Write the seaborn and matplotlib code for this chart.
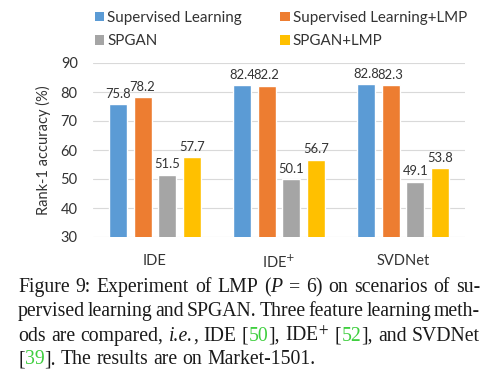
import pandas as pd
import seaborn as sns
import matplotlib.pyplot as plt
from matplotlib.patches import Patch

# data
methods = ["IDE", "IDE$^{+}$", "SVDNet"]
settings = ["Supervised Learning", "Supervised Learning+LMP", "SPGAN", "SPGAN+LMP"]
supervised = [75.8, 82.4, 82.8]
supervised_lmp = [78.2, 82.2, 82.3]
spgan = [51.5, 50.1, 49.1]
spgan_lmp = [57.7, 56.7, 53.8]
colors = ["#5B9BD5", "#ED7D31", "#A5A5A5", "#FFC000"]

rows = []
for s, vals in zip(settings, [supervised, supervised_lmp, spgan, spgan_lmp]):
    for m, v in zip(methods, vals):
        rows.append({"method": m, "setting": s, "acc": v})
df = pd.DataFrame(rows)

sns.set_style("white")
plt.rcParams["font.family"] = ["Lato", "DejaVu Sans"]
plt.rcParams["mathtext.fontset"] = "dejavusans"

fig = plt.figure(figsize=(4.97, 3.82), dpi=100)
W, H = 497, 382
ax = fig.add_axes([93 / W, 1 - 237 / H, 372 / W, 174 / H])

sns.barplot(data=df, x="method", y="acc", hue="setting", palette=colors,
            saturation=1, width=0.8, gap=0.27, ax=ax, legend=False)

for c in ax.containers:
    ax.bar_label(c, fmt="%.1f", padding=3, fontsize=9.4, color="#333333")

ax.set_ylim(30, 90)
ax.set_yticks(range(30, 91, 10))
ax.yaxis.grid(True, color="#d9d9d9", linewidth=0.8)
ax.set_axisbelow(True)
for sp in ax.spines.values():
    sp.set_visible(False)
ax.tick_params(axis="both", length=0, labelsize=10.5, colors="#333333")
ax.tick_params(axis="y", pad=11)
ax.tick_params(axis="x", pad=12)
ax.set_xlabel("")
ax.set_ylabel("Rank-1 accuracy (%)", fontsize=10.5, color="#333333", labelpad=7)

# row-wise legend order for two columns
order = [0, 2, 1, 3]
handles = [Patch(facecolor=colors[i], edgecolor="none") for i in order]
labels = [settings[i] for i in order]
fig.legend(handles, labels, ncol=2, frameon=False, fontsize=10.9,
           loc="upper left", bbox_to_anchor=(95 / W, 1 - 11 / H),
           borderpad=0, borderaxespad=0,
           handlelength=0.6, handleheight=0.6, handletextpad=0.2,
           columnspacing=2.55, labelspacing=0.6, labelcolor="#333333")

# caption, justified line by line
serif = "Liberation Serif"
green = "#3fcf3f"
ink = "#1a1a1a"
N, I, G = {}, {"style": "italic"}, {"color": green}
lines = [
    [[("Figure", N)], [("9:", N)], [("Experiment", N)], [("of", N)], [("LMP", N)],
     [("(", N), ("P", I)], [("=", N)], [("6)", N)], [("on", N)], [("scenarios", N)],
     [("of", N)], [("su-", N)]],
    [[(w, N)] for w in "pervised learning and SPGAN. Three feature learning meth-".split()],
    [[("ods", N)], [("are", N)], [("compared,", N)], [("i.e.", I), (",", N)],
     [("IDE", N)], [("[", N), ("50", G), ("],", N)], [("IDE$^{+}$", N)],
     [("[", N), ("52", G), ("],", N)], [("and", N)], [("SVDNet", N)]],
    [[("[", N), ("39", G), ("].", N)]] +
    [[(w, N)] for w in "The results are on Market-1501.".split()],
]
baselines = [292, 316, 341, 364]
x0, x1 = 18, 480
fs = 14.2
renderer = fig.canvas.get_renderer()


def draw(x, y, s, props):
    t = fig.text(x / W, 1 - y / H, s, fontsize=fs, family=serif, va="baseline",
                 ha="left", color=props.get("color", ink),
                 style=props.get("style", "normal"), math_fontfamily="stix")
    return t, t.get_window_extent(renderer).width


space_t, space_w = draw(0, 0, "a a", N)
a_t, a_w = draw(0, 0, "aa", N)
space = space_w - a_w
space_t.remove()
a_t.remove()

for li, (words, yb) in enumerate(zip(lines, baselines)):
    drawn = []
    for word in words:
        parts = []
        wsum = 0
        for s, p in word:
            t, w = draw(0, yb, s, p)
            parts.append((t, w))
            wsum += w
        drawn.append((parts, wsum))
    total = sum(w for _, w in drawn)
    if li < len(lines) - 1:
        gap = (x1 - x0 - total) / (len(drawn) - 1)
    else:
        gap = space
    x = x0
    for parts, wsum in drawn:
        for t, w in parts:
            t.set_x(x / W)
            x += w
        x += gap

fig.savefig("out.png", dpi=100)
